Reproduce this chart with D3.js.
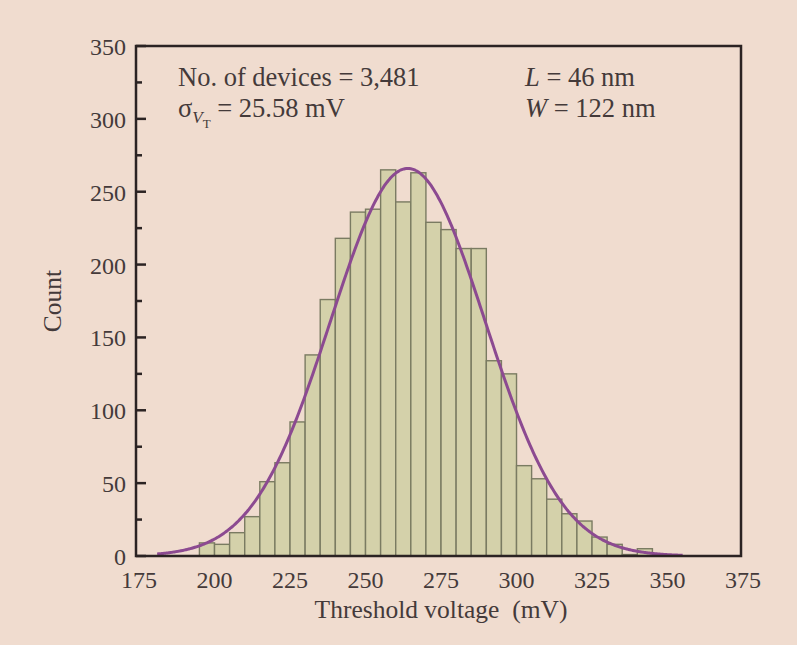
<!DOCTYPE html>
<html><head><meta charset="utf-8">
<script src="https://cdn.jsdelivr.net/npm/d3@7"></script>
<style>
html,body{margin:0;padding:0;background:#f0dccf;}
svg{display:block;}
text{font-family:"Liberation Serif","Times New Roman",serif;fill:#443a3a;}
</style></head>
<body><svg id="c" width="797" height="645"></svg>
<script>
// Histogram bins: left edges (mV), bin width 5 mV
const binStarts = [196,201,206,211,216,221,226,231,236,241,246,251,256,261,266,271,276,281,286,291,296,301,306,311,316,321,326,331,336,341];
const binCounts = [9,8,16,27,51,64,92,138,176,218,236,238,265,243,263,229,224,211,211,134,125,62,53,39,29,24,13,8,1,5];
const binWidth = 5;
// Gaussian fit parameters
const fitMean = 265, fitSigma = 25.58, fitPeak = 266;
const fitRange = [182, 356];
const xTicks = [175,200,225,250,275,300,325,350,375];
const yTicks = [0,50,100,150,200,250,300,350];
const yMinor = [25,75,125,175,225,275,325];

const svg = d3.select("#c");
const L=136, R=741, T=46, B=556;
const x = d3.scaleLinear().domain([175,375]).range([L,740]);
const y = d3.scaleLinear().domain([0,350]).range([B,T]);

// bars
svg.append("g").selectAll("rect").data(binStarts).join("rect")
  .attr("x", (d)=>x(d)).attr("width",(d)=>x(d+binWidth)-x(d))
  .attr("y",(d,i)=>y(binCounts[i])).attr("height",(d,i)=>B-y(binCounts[i]))
  .attr("fill","#d4d1aa").attr("stroke","#7a7b62").attr("stroke-width",1.4);

// fit curve
const xs = d3.range(fitRange[0], fitRange[1]+0.01, 0.5);
const line = d3.line().x(d=>x(d)).y(d=>y(fitPeak*Math.exp(-((d-fitMean)**2)/(2*fitSigma*fitSigma)))).curve(d3.curveBasis);
svg.append("path").datum(xs).attr("d",line).attr("fill","none").attr("stroke","#8c4a91").attr("stroke-width",3);

// frame
svg.append("rect").attr("x",L).attr("y",T).attr("width",R-L).attr("height",B-T)
  .attr("fill","none").attr("stroke","#2b2323").attr("stroke-width",2.5);

// y ticks
const gy = svg.append("g");
gy.selectAll("line.maj").data(yTicks).join("line").attr("class","maj")
  .attr("x1",L).attr("x2",L+10).attr("y1",d=>y(d)).attr("y2",d=>y(d))
  .attr("stroke","#2b2323").attr("stroke-width",2.5);
gy.selectAll("line.min").data(yMinor).join("line").attr("class","min")
  .attr("x1",L).attr("x2",L+6).attr("y1",d=>y(d)).attr("y2",d=>y(d))
  .attr("stroke","#2b2323").attr("stroke-width",2.5);
gy.selectAll("text").data(yTicks).join("text")
  .attr("x",L-10).attr("y",d=>y(d)+9).attr("text-anchor","end")
  .style("font-size","24px").text(d=>d);

// x tick labels
svg.append("g").selectAll("text").data(xTicks).join("text")
  .attr("x",d=>x(d)+3).attr("y",588).attr("text-anchor","middle")
  .style("font-size","24px").text(d=>d);

// titles
svg.append("text").attr("x",441).attr("y",618).attr("text-anchor","middle")
  .style("font-size","25.5px").attr("xml:space","preserve").text("Threshold voltage  (mV)");
svg.append("text").attr("transform","translate(61,301) rotate(-90)").attr("text-anchor","middle")
  .style("font-size","25.5px").text("Count");

// annotations
const colX=[178,525], rowY=[86,117];
const ann = svg.append("g").style("font-size","26.5px");
ann.append("text").attr("x",colX[0]).attr("y",rowY[0]).text("No. of devices = 3,481");
const tL = ann.append("text").attr("x",colX[1]).attr("y",rowY[0]);
tL.append("tspan").style("font-style","italic").text("L");
tL.append("tspan").text(" = 46 nm");
const tW = ann.append("text").attr("x",colX[1]).attr("y",rowY[1]);
tW.append("tspan").style("font-style","italic").text("W");
tW.append("tspan").text(" = 122 nm");
const tS = ann.append("text").attr("x",colX[0]).attr("y",rowY[1]);
tS.append("tspan").text("σ");
tS.append("tspan").attr("dy",6).style("font-style","italic").style("font-size","17px").text("V");
tS.append("tspan").attr("dy",5).style("font-size","13px").text("T");
tS.append("tspan").attr("dy",-11).text(" = 25.58 mV");
</script></body></html>
